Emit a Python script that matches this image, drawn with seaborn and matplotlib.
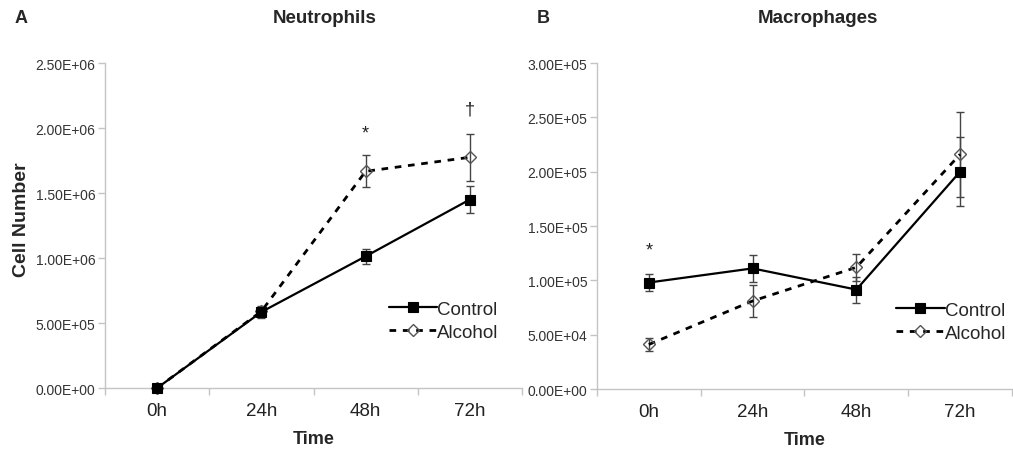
import numpy as np
import pandas as pd
import matplotlib
matplotlib.use("Agg")
import matplotlib.pyplot as plt
import matplotlib.ticker as mticker
import seaborn as sns

# ===== Data =====
times = ["0h", "24h", "48h", "72h"]

neut_control = [0, 5.85e5, 1.013e6, 1.45e6]
neut_control_err = [0, 4.8e4, 5.8e4, 1.03e5]
neut_alcohol = [0, 5.9e5, 1.667e6, 1.775e6]
neut_alcohol_err = [0, 3.0e4, 1.24e5, 1.8e5]

mac_control = [9.8e4, 1.11e5, 9.15e4, 2.0e5]
mac_control_err = [8.0e3, 1.23e4, 1.2e4, 3.2e4]
mac_alcohol = [4.1e4, 8.1e4, 1.12e5, 2.16e5]
mac_alcohol_err = [6.0e3, 1.46e4, 1.23e4, 3.9e4]

# significance marks: (time, y, symbol)
neut_marks = [("48h", 1.96e6, "*"), ("72h", 2.15e6, "\u2020")]
mac_marks = [("0h", 1.28e5, "*")]

sns.set_theme(style="white")
plt.rcParams["font.family"] = ["Liberation Sans", "DejaVu Sans"]

fig = plt.figure(figsize=(10.13, 4.56), dpi=100)
ax_a = fig.add_axes([0.1037, 0.1469, 0.4116, 0.7127])
ax_b = fig.add_axes([0.5893, 0.1447, 0.4097, 0.7149])

spine_col = "#c4c4c4"
err_col = "#444444"


def draw_panel(ax, ctrl, ctrl_err, alc, alc_err, ymax, step, marks):
    # error bars first, lines on top
    ax.errorbar(times, alc, yerr=alc_err, fmt="none", ecolor=err_col,
                elinewidth=1.0, capsize=3, capthick=1.0, zorder=2)
    ax.errorbar(times, ctrl, yerr=ctrl_err, fmt="none", ecolor=err_col,
                elinewidth=1.0, capsize=3, capthick=1.0, zorder=2)

    sns.lineplot(x=times, y=ctrl, ax=ax, color="black", marker="s",
                 markersize=7.5, markeredgecolor="black", markeredgewidth=0.8,
                 linewidth=1.6, label="Control", sort=False, zorder=4,
                 clip_on=False)
    sns.lineplot(x=times, y=alc, ax=ax, color="black", marker="D",
                 markersize=6, markerfacecolor="none", markeredgecolor="#555555",
                 markeredgewidth=1.0, linewidth=2.0, linestyle=(0, (2.4, 2.4)),
                 label="Alcohol", sort=False, zorder=3, clip_on=False)

    for t, y, s in marks:
        ax.text(t, y, s, ha="center", va="center", fontsize=13, color="#222222")

    ax.set_xlim(-0.5, 3.5)
    ax.set_ylim(0, ymax)
    ax.yaxis.set_major_locator(mticker.MultipleLocator(step))
    ax.yaxis.set_major_formatter(mticker.FuncFormatter(lambda v, p: f"{v:.2E}"))
    ax.xaxis.set_minor_locator(mticker.FixedLocator([-0.5, 0.5, 1.5, 2.5, 3.5]))

    for side in ["top", "right"]:
        ax.spines[side].set_visible(False)
    for side in ["left", "bottom"]:
        ax.spines[side].set_color(spine_col)
        ax.spines[side].set_linewidth(1.0)

    ax.tick_params(axis="y", which="major", direction="out", length=5, width=1,
                   color=spine_col, labelsize=10, labelcolor="#333333", pad=2, left=True)
    ax.tick_params(axis="x", which="major", length=0, labelsize=13.5,
                   labelcolor="#222222", pad=10)
    ax.tick_params(axis="x", which="minor", direction="out", length=5, width=1,
                   color=spine_col, bottom=True)

    ax.set_xlabel("Time", fontsize=13, fontweight="bold", labelpad=8)
    ax.set_ylabel("")


draw_panel(ax_a, neut_control, neut_control_err, neut_alcohol, neut_alcohol_err,
           2.5e6, 5e5, neut_marks)
draw_panel(ax_b, mac_control, mac_control_err, mac_alcohol, mac_alcohol_err,
           3.0e5, 5e4, mac_marks)

ax_a.set_ylabel("Cell Number", fontsize=14, fontweight="bold")
ax_a.yaxis.set_label_coords(-0.18, 0.52)

for ax, anchor in [(ax_a, (0.68, 0.268)), (ax_b, (0.72, 0.268))]:
    ax.legend(loc="upper left", bbox_to_anchor=anchor, frameon=False,
              fontsize=13.5, handlelength=2.6, handletextpad=0.0,
              borderpad=0, borderaxespad=0, labelspacing=0.3)

fig.text(0.014, 0.96, "A", fontsize=13, fontweight="bold", va="center")
fig.text(0.530, 0.96, "B", fontsize=13, fontweight="bold", va="center")
fig.text(325 / 1013, 0.96, "Neutrophils", fontsize=13.5, fontweight="bold",
         ha="center", va="center")
fig.text(818 / 1013, 0.96, "Macrophages", fontsize=13.5, fontweight="bold",
         ha="center", va="center")

fig.savefig("out.png", dpi=100, facecolor="white")
